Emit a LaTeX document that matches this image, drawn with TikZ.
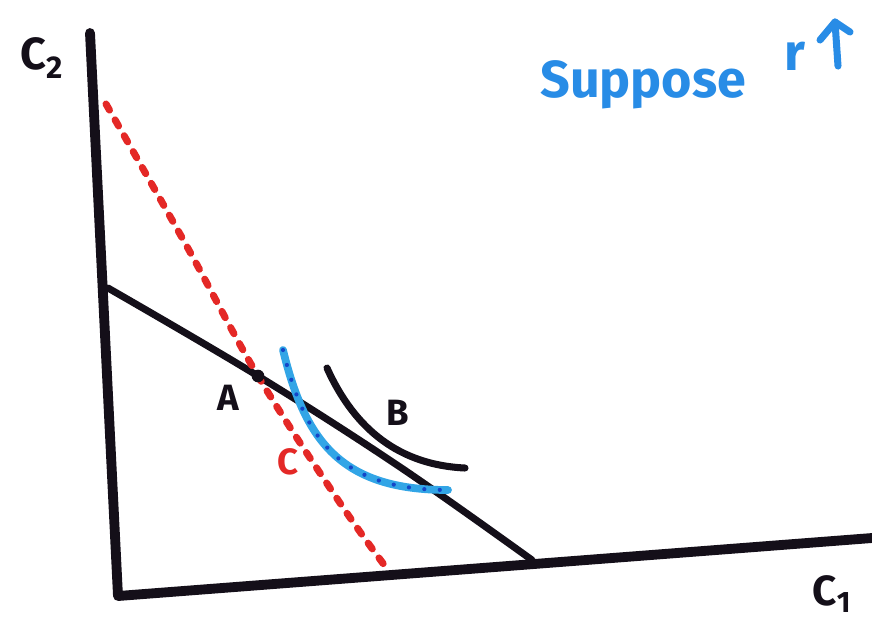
\documentclass[tikz,border=0pt]{standalone}
\usepackage{fontspec}
\setmainfont{Fira Sans}
\definecolor{ink}{RGB}{20,15,25}
\definecolor{redink}{RGB}{228,40,38}
\definecolor{blueink}{RGB}{40,140,230}
\definecolor{lblue}{RGB}{50,165,230}
\definecolor{dblue}{RGB}{20,70,200}
\tikzset{
  axis/.style={ink,line width=7pt,line cap=round,line join=round},
  budget/.style={ink,line width=5pt,line cap=round},
  newbudget/.style={redink,line width=5pt,dash pattern=on 5pt off 8pt,line cap=round},
  indiff/.style={lblue,line width=5.5pt,line cap=round},
  indiffdots/.style={dblue,line width=3pt,dash pattern=on 0pt off 11pt,line cap=round},
  indiffB/.style={ink,line width=5pt,line cap=round},
  lbl/.style={font=\bfseries\fontsize{26}{30}\selectfont,inner sep=0pt},
  axlbl/.style={ink,font=\bfseries\fontsize{32}{38}\selectfont,inner sep=0pt},
  bluetxt/.style={blueink,font=\bfseries\fontsize{37}{44}\selectfont,inner sep=0pt}
}
\begin{document}
\begin{tikzpicture}[x=0.025cm,y=-0.025cm]
\useasboundingbox (0,0) rectangle (872,626);
\fill[white] (0,0) rectangle (872,626);
% axes
\coordinate (ytop) at (90,33);
\coordinate (orig) at (118,596);
\coordinate (xend) at (872,538);
\draw[axis] (ytop) -- (orig) -- (xend);
% original budget line
\coordinate (b0) at (108,288);
\coordinate (A) at (258,376);
\coordinate (b1) at (532,560);
\draw[budget] plot[smooth,tension=0.6] coordinates {(b0) (A) (400,467) (b1)};
% new budget line (red dashed)
\coordinate (r0) at (106,104);
\coordinate (r1) at (388,570);
\draw[newbudget] plot[smooth,tension=0.6] coordinates {(r0) (185,243) (A) (340,503) (r1)};
\fill[ink] (A) circle (4.5pt);
% blue indifference curve
\coordinate (c0) at (283,350);
\coordinate (c1) at (448,490);
\draw[indiff] (c0) .. controls (305,440) and (340,490) .. (c1);
\draw[indiffdots] (c0) .. controls (305,440) and (340,490) .. (c1);
% black indifference curve B
\coordinate (d0) at (327,368);
\coordinate (d1) at (465,468);
\draw[indiffB] (d0) .. controls (355,430) and (400,465) .. (d1);
% labels
\node[lbl,ink] (la) at (228,398) {A};
\node[lbl,ink] (lb) at (398,413) {B};
\node[lbl,redink] (lc) at (288,462) {C};
\node[axlbl] (c2) at (42,58) {C\textsubscript{2}};
\node[axlbl,font=\bfseries\fontsize{30}{36}\selectfont] (c1l) at (832,594) {C\textsubscript{1}};
\node[bluetxt,anchor=base west] (sup) at (540,97) {Suppose};
\node[bluetxt,anchor=base west] (rr) at (784,70) {r};
\coordinate (arb) at (838,66);
\coordinate (art) at (835,22);
\draw[blueink,line width=5pt,line cap=round,line join=round] (arb) -- (art);
\draw[blueink,line width=5pt,line cap=round,line join=round] (820,40) -- (art) -- (850,32);
\end{tikzpicture}
\end{document}
